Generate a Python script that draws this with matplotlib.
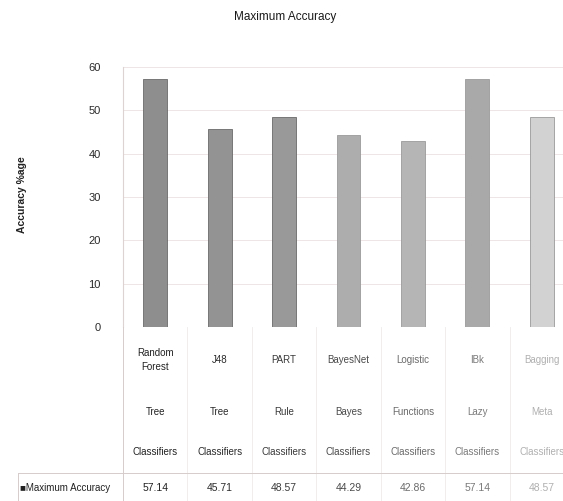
import numpy as np
import matplotlib.pyplot as plt
import matplotlib.transforms as mtransforms
from matplotlib.lines import Line2D

plt.rcParams['font.family'] = ['Liberation Sans Narrow', 'Liberation Sans', 'DejaVu Sans']

# classifier names, split into the three lines of the data table
names = ["Random\nForest", "J48", "PART", "BayesNet", "Logistic", "IBk", "Bagging"]
groups = ["Tree", "Tree", "Rule", "Bayes", "Functions", "Lazy", "Meta"]
kinds = ["Classifiers"] * 7
max_accuracy = [57.14, 45.71, 48.57, 44.29, 42.86, 57.14, 48.57]

bar_colors = ["#8e8e8e", "#939393", "#999999", "#adadad", "#b5b5b5", "#a9a9a9", "#d2d2d2"]
text_colors = ["#222222", "#2a2a2a", "#3a3a3a", "#4a4a4a", "#6a6a6a", "#7a7a7a", "#b0b0b0"]

W, H = 563, 501
fig = plt.figure(figsize=(W / 100, H / 100), dpi=100)

# plot area runs past the right edge of the figure
left, right, top, bottom = 123, 574, 67, 327
ax = fig.add_axes([left / W, 1 - bottom / H, (right - left) / W, (bottom - top) / H])

x = np.arange(len(names))
ax.bar(x, max_accuracy, width=0.37, color=bar_colors,
       edgecolor=["#6a6a6a"] * 3 + ["#9a9a9a"] * 4, linewidth=0.6, zorder=3)

ax.set_xlim(-0.5, len(names) - 0.5)
ax.set_ylim(0, 60)
ax.set_yticks(range(0, 61, 10))
ax.tick_params(axis='y', length=0, pad=16, labelsize=8, labelcolor="#2a2a2a")
ax.set_xticks([])
ax.grid(axis='y', color="#eee6e6", linewidth=0.7, zorder=0)
for side in ['top', 'right', 'bottom']:
    ax.spines[side].set_visible(False)
ax.spines['left'].set_color("#ddd3d3")
ax.spines['left'].set_linewidth(0.8)

fig.text(285 / W, 1 - 17 / H, "Maximum Accuracy", ha='center', va='center',
         fontsize=8.5, color="#1a1a1a")
fig.text(22 / W, 1 - 195 / H, "Accuracy %age", ha='center', va='center',
         rotation=90, fontsize=7.5, fontweight='bold', color="#222222")

# data table under the chart
trans = mtransforms.blended_transform_factory(ax.transData, fig.transFigure)

def fy(py):
    return 1 - py / H

for i in x:
    c = text_colors[i]
    ax.text(i, fy(360), names[i], transform=trans, ha='center', va='center',
            fontsize=7, color=c, linespacing=1.6, clip_on=False)
    ax.text(i, fy(412), groups[i], transform=trans, ha='center', va='center',
            fontsize=7, color=c, clip_on=False)
    ax.text(i, fy(452), kinds[i], transform=trans, ha='center', va='center',
            fontsize=7, color=c, clip_on=False)
    ax.text(i, fy(488), f"{max_accuracy[i]:.2f}", transform=trans, ha='center',
            va='center', fontsize=7.5, color=c, clip_on=False)

fig.text(20 / W, fy(488), "\u25a0Maximum Accuracy", ha='left', va='center',
         fontsize=7, color="#222222")

line_kw = dict(color="#d6cccc", linewidth=0.7, transform=fig.transFigure)
fig.add_artist(Line2D([18 / W, 1], [fy(473), fy(473)], **line_kw))
fig.add_artist(Line2D([18 / W, 18 / W], [fy(473), fy(501)], **line_kw))
fig.add_artist(Line2D([left / W, left / W], [fy(327), fy(501)], **line_kw))
for i in x[:-1]:
    ax.add_line(Line2D([i + 0.5, i + 0.5], [fy(327), fy(501)], transform=trans,
                       color="#f0eaea", linewidth=0.6, clip_on=False))

fig.savefig("out.png", dpi=100, facecolor="white")
